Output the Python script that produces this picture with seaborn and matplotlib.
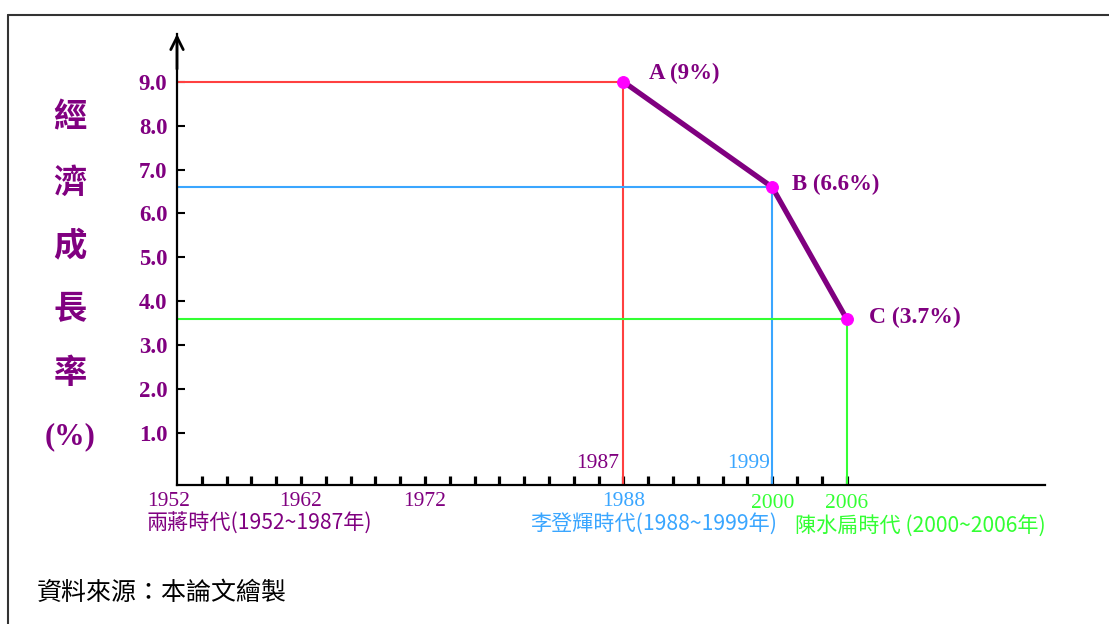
import matplotlib
matplotlib.use("Agg")
import matplotlib.pyplot as plt
import seaborn as sns
import pandas as pd
from matplotlib.lines import Line2D

# ---------------- data ----------------
years = [1988, 2000, 2006]
growth = [9.0, 6.6, 3.6]
point_labels = ["A (9%)", "B (6.6%)", "C (3.7%)"]
ytick_values = [1.0, 2.0, 3.0, 4.0, 5.0, 6.0, 7.0, 8.0, 9.0]
ytick_labels = ["1.0", "2.0", "3.0", "4.0", "5.0", "6.0", "7.0", "8.0", "9.0"]
xtick_years = list(range(1954, 2007, 2))
lower_years = [1952, 1962, 1972]
lower_year_labels = ["1952", "1962", "1972"]
ylabel_chars = ["經", "濟", "成", "長", "率", "(%)"]
era_labels = ["兩蔣時代(1952~1987年)", "李登輝時代(1988~1999年)", "陳水扁時代 (2000~2006年)"]
source_text = "資料來源：本論文繪製"

PURPLE = "#800080"
RED = "#ff4040"
BLUE = "#3aa6ff"
GREEN = "#33ff33"
guide_colors = [RED, BLUE, GREEN]

sns.set_style("white")
plt.rcParams["font.family"] = ["Liberation Serif", "Noto Sans CJK TC", "DejaVu Sans"]

W, H = 1109, 624
fig = plt.figure(figsize=(W / 100, H / 100), dpi=100)
fig.patch.set_facecolor("white")


def fx(px):
    return px / W


def fy(py):
    return 1 - py / H


ax = fig.add_axes([fx(177), fy(485), fx(1045) - fx(177), fy(34) - fy(485)])
ax.set_facecolor("white")
PX_PER_YEAR = 12.4
PX_PER_UNIT = 43.9
ybot = -(485 - 476.9) / PX_PER_UNIT
ytop = (476.9 - 34) / PX_PER_UNIT
ax.set_xlim(1952, 1952 + 868 / PX_PER_YEAR)
ax.set_ylim(ybot, ytop)

# guide lines
for yr, g, c in zip(years, growth, guide_colors):
    ax.hlines(g, 1952, yr, color=c, lw=1.5, zorder=2)
    ax.vlines(yr, ybot, g, color=c, lw=1.5, zorder=2)

# main line
df = pd.DataFrame({"year": years, "growth": growth})
sns.lineplot(data=df, x="year", y="growth", ax=ax, color=PURPLE, lw=3.8,
             marker="o", markersize=8.5, markerfacecolor="#ff00ff",
             markeredgecolor="#ff00ff", zorder=5)
ax.set_xlabel("")
ax.set_ylabel("")

# spines
sns.despine(ax=ax)
for s in ["left", "bottom"]:
    ax.spines[s].set_color("black")
    ax.spines[s].set_linewidth(1.6)

# arrow on top of y axis
ax.annotate("", xy=(1952, ytop), xytext=(1952, ytop - 0.8),
            arrowprops=dict(arrowstyle="->,head_length=0.9,head_width=0.45",
                            color="black", lw=2.0, shrinkA=0, shrinkB=0),
            annotation_clip=False)

# ticks
ax.set_xticks(xtick_years)
ax.set_xticklabels([])
ax.tick_params(axis="x", bottom=True, direction="in", length=6.5, width=2.3, color="black")
ax.set_yticks(ytick_values, ytick_labels)
ax.tick_params(axis="y", left=True, direction="in", length=5.8, width=1.5, color="black",
               pad=7, labelcolor=PURPLE, labelsize=16.5)
for t in ax.get_yticklabels():
    t.set_fontweight("bold")

# point labels
offsets = [(18.7, 5.8), (14.4, 2.2), (15.8, 0.7)]
label_sizes = [16.5, 16.5, 17]
for yr, g, lab, off, fs in zip(years, growth, point_labels, offsets, label_sizes):
    ax.annotate(lab, (yr, g), xytext=off, textcoords="offset points",
                ha="left", va="center", color=PURPLE, fontweight="bold", fontsize=fs)

xt = ax.get_xaxis_transform()
YEAR_FS = 15.5
# lower year labels
lower_offsets = [-8, 0, 0]
for yr, lab, dx in zip(lower_years, lower_year_labels, lower_offsets):
    ax.annotate(lab, (yr, 0), xycoords=xt, xytext=(dx * 0.72, -17 * 0.72),
                textcoords="offset points", ha="center", va="center",
                color=PURPLE, fontsize=YEAR_FS, annotation_clip=False)

# era year labels
ax.annotate("1987", (years[0], 0), xycoords=xt, xytext=(-4 * 0.72, 22 * 0.72),
            textcoords="offset points", ha="right", va="center", color=PURPLE, fontsize=YEAR_FS)
ax.annotate("1988", (years[0], 0), xycoords=xt, xytext=(0, -17 * 0.72),
            textcoords="offset points", ha="center", va="center", color=BLUE, fontsize=YEAR_FS,
            annotation_clip=False)
ax.annotate("1999", (years[1], 0), xycoords=xt, xytext=(-2 * 0.72, 22 * 0.72),
            textcoords="offset points", ha="right", va="center", color=BLUE, fontsize=YEAR_FS)
ax.annotate("2000", (years[1], 0), xycoords=xt, xytext=(0, -19 * 0.72),
            textcoords="offset points", ha="center", va="center", color=GREEN, fontsize=YEAR_FS,
            annotation_clip=False)
ax.annotate("2006", (years[2], 0), xycoords=xt, xytext=(0, -19 * 0.72),
            textcoords="offset points", ha="center", va="center", color=GREEN, fontsize=YEAR_FS,
            annotation_clip=False)

# era labels
era_x = [147, 530, 795]
era_y = [524, 524, 526]
era_colors = [PURPLE, BLUE, GREEN]
for lab, x, y, c in zip(era_labels, era_x, era_y, era_colors):
    fig.text(fx(x), fy(y), lab, ha="left", va="center", color=c, fontsize=15.2,
             family=["Noto Sans CJK TC", "DejaVu Sans"])

# vertical y-axis label
ylab_y = [118, 183, 246, 310, 373, 437]
for ch, y in zip(ylabel_chars, ylab_y):
    if ch == "(%)":
        fig.text(fx(70), fy(y), ch, ha="center", va="center", color=PURPLE,
                 fontsize=22, fontweight="bold", family=["Liberation Serif", "DejaVu Sans"])
    else:
        fig.text(fx(70), fy(y), ch, ha="center", va="center", color=PURPLE,
                 fontsize=24, fontweight="bold", family=["Noto Sans CJK TC", "DejaVu Sans"])

# source text
fig.text(fx(37), fy(593), source_text, ha="left", va="center", color="black",
         fontsize=18, family=["Noto Sans CJK TC", "DejaVu Sans"])

# outer frame
fig.add_artist(Line2D([fx(8), fx(8)], [fy(15), 0], color="#333333", lw=1.5))
fig.add_artist(Line2D([fx(8), 1], [fy(15), fy(15)], color="#333333", lw=1.5))

fig.savefig("out.png", dpi=100, facecolor="white")
